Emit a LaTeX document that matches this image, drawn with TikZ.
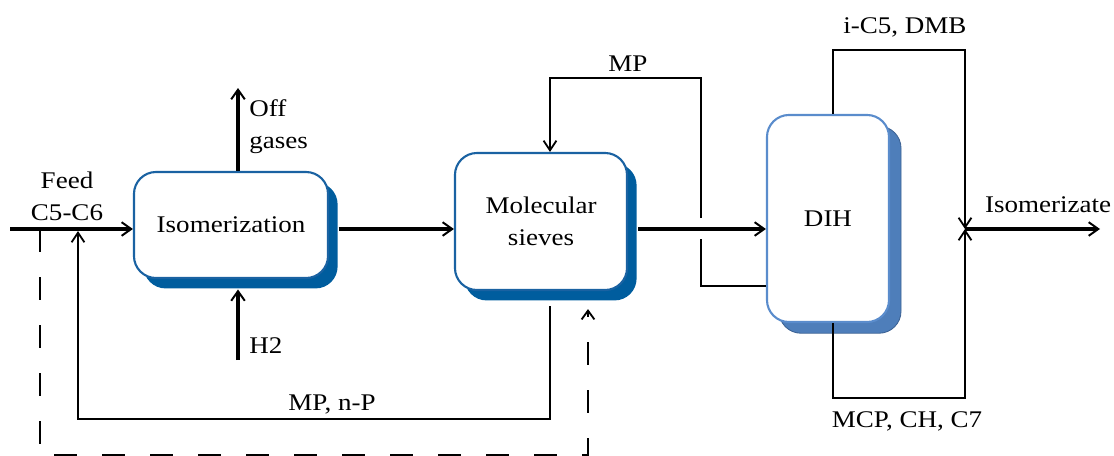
\documentclass[tikz,border=0pt]{standalone}
\usepackage{fontspec}
\setmainfont[FakeStretch=1.13]{Liberation Serif}
\usetikzlibrary{arrows.meta,shadows}
\definecolor{boxline}{RGB}{26,98,162}
\definecolor{boxshade}{RGB}{0,93,158}
\definecolor{dihline}{RGB}{90,140,204}
\definecolor{dihshade}{RGB}{78,126,186}
\definecolor{dihedge}{RGB}{60,98,148}
\begin{document}
\begin{tikzpicture}[x=0.025cm,y=-0.025cm,
        font=\fontsize{17}{22.7}\selectfont,
        unitbase/.style={draw=boxline,rectangle,rounded corners=5.5mm,fill=white,line width=1.5pt,inner sep=0pt,align=center},
        unit/.style={unitbase,drop shadow={shadow xshift=2.4mm,shadow yshift=-2.6mm,fill=boxshade,opacity=1}},
        column/.style={unitbase,draw=dihline,drop shadow={shadow xshift=3mm,shadow yshift=-2.8mm,fill=dihshade,draw=dihedge,line width=0.6pt,opacity=1}},
        flow/.style={line width=2.4pt,-{Straight Barb[length=2.4mm,width=3.4mm,line width=1.4pt]}},
        recycle/.style={line width=1.6pt,-{Straight Barb[length=2.4mm,width=3.2mm,line width=1.3pt]}},
        bypass/.style={line width=1.6pt,dash pattern=on 5.75mm off 6.25mm,-{Straight Barb[length=2.2mm,width=3.2mm,line width=1.3pt]}},
        stream/.style={inner sep=0pt}
      ]
      \useasboundingbox (0,0) rectangle (1114,455);
      % units
      \node[unit,minimum width=4.85cm,minimum height=2.65cm] (iso) at (231,225) {Isomerization};
      \node[unit,minimum width=4.3cm,minimum height=3.425cm] (sieve) at (541,221.5) {Molecular\\sieves};
      \node[column,minimum width=3.05cm,minimum height=5.175cm] (dih) at (828,218.5) {DIH};
      % points on the lines
      \coordinate (feedstart) at (10,229);
      \coordinate (split) at (40,229);
      \coordinate (mix) at (78,231);
      \coordinate (offtop) at (238,88);
      \coordinate (h2in) at (238,360);
      \coordinate (hop) at (701,229);
      \coordinate (mpret) at (701,286);
      \coordinate (mptop) at (550,78);
      \coordinate (npbot) at (550,419);
      \coordinate (bypbot) at (588,455);
      \coordinate (dtop) at (833,50);
      \coordinate (dbot) at (833,398);
      \coordinate (junction) at (965,229);
      \coordinate (prodout) at (1100,229);
      % main flows
      \draw[flow] (feedstart) -- (feedstart -| iso.west);
      \draw[flow] (offtop |- iso.north) -- (offtop);
      \draw[flow] (h2in) -- ([yshift=-2.6mm]h2in |- iso.south);
      \draw[flow] ([xshift=2.4mm]feedstart -| iso.east) -- (feedstart -| sieve.west);
      \draw[flow] ([xshift=2.5mm]feedstart -| sieve.east) -- (feedstart -| dih.west);
      \draw[flow] (junction) -- (prodout);
      % recycle streams
      \draw[line width=1.6pt] (mpret -| dih.west) -- (mpret) -- ([yshift=-2.5mm]hop);
      \draw[recycle] ([yshift=2.75mm]hop) -- (hop |- mptop) -- (mptop) -- (mptop |- sieve.north);
      \draw[recycle] ([yshift=-3.75mm]npbot |- sieve.south) -- (npbot) -| (mix);
      \draw[bypass] (split) |- (bypbot) -- ([yshift=-4.5mm]bypbot |- sieve.south);
      % DIH products
      \draw[recycle] (dtop |- dih.north) -- (dtop) -| (junction);
      \draw[recycle] (dbot |- dih.south) -- (dbot) -| (junction);
      % labels
      \node[stream,align=center] (feedlbl) at (67,196) {Feed\\C5-C6};
      \node[stream,align=left,anchor=west] (offlbl) at (249,127) {Off\\gases};
      \node[stream,anchor=west] (h2lbl) at (249,346) {H2};
      \node[stream] (mplbl) at (628,64) {MP};
      \node[stream] (nplbl) at (332,405) {MP, n-P};
      \node[stream] (toplbl) at (905,27) {i-C5, DMB};
      \node[stream] (botlbl) at (907,421) {MCP, CH, C7};
      \node[stream] (prodlbl) at (1048,205) {Isomerizate};
    \end{tikzpicture}
\end{document}
